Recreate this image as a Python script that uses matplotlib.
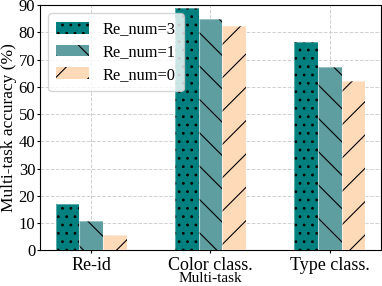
import numpy as np
import matplotlib
matplotlib.use("Agg")
import matplotlib.pyplot as plt

plt.rcParams['font.family'] = ['Liberation Serif', 'DejaVu Serif']
plt.rcParams['hatch.color'] = 'black'
plt.rcParams['hatch.linewidth'] = 0.8

# datos
tasks = ['Re-id', 'Color class.', 'Type class.']
re_num3 = [17.0, 89.0, 76.5]
re_num1 = [10.8, 85.0, 67.3]
re_num0 = [5.7, 82.5, 62.3]

series = [('Re_num=3', re_num3, '#007f7f', '..'),
          ('Re_num=1', re_num1, '#5f9ea0', '\\'),
          ('Re_num=0', re_num0, '#ffdab9', '/')]

x = np.arange(len(tasks))
w = 0.2

fig, ax = plt.subplots(figsize=(3.82, 2.86), dpi=100)
for i, (lab, vals, col, h) in enumerate(series):
    ax.bar(x + (i - 1) * w, vals, w, color=col, hatch=h, linewidth=0,
           label=lab, zorder=3)
    # borde claro
    ax.bar(x + (i - 1) * w, vals, w, fill=False, edgecolor=(1, 1, 1, 0.35),
           linewidth=0.8, zorder=4)

ax.set_ylim(0, 90)
ax.set_yticks(range(0, 91, 10))
ax.set_xticks(x)
ax.set_xticklabels(tasks)
ax.tick_params(axis='y', labelsize=12, length=2.5, pad=1)
ax.tick_params(axis='x', labelsize=13, length=2.5, pad=2)
ax.set_ylabel('Multi-task accuracy (%)', fontsize=12.5, labelpad=1)
ax.set_xlabel('Multi-task', fontsize=11, labelpad=-1)
ax.grid(True, linestyle='--', color='#d0d0d0', linewidth=0.7, zorder=0)
ax.legend(loc='upper left', fontsize=11.8, handlelength=2.0, borderpad=0.5,
          labelspacing=0.4, handletextpad=0.8)

fig.subplots_adjust(left=0.105, right=0.997, top=0.982, bottom=0.125)
fig.savefig('out.png', dpi=100)
